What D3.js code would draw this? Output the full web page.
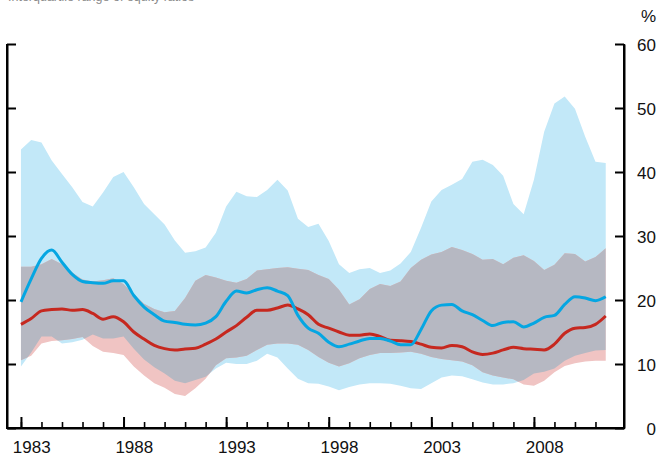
<!DOCTYPE html>
<html>
<head>
<meta charset="utf-8">
<script src="https://cdn.jsdelivr.net/npm/d3@7"></script>
<style>
  html, body { margin: 0; padding: 0; background: #fff; }
  svg { display: block; font-family: "Liberation Sans", Arial, Helvetica, sans-serif; }
</style>
</head>
<body>
<svg id="chart" width="657" height="457"></svg>
<script>
// Half-yearly observations, 1983 to mid-2011
const years = [
  1983.0, 1983.5, 1984.0, 1984.5, 1985.0, 1985.5, 1986.0, 1986.5, 1987.0, 1987.5,
  1988.0, 1988.5, 1989.0, 1989.5, 1990.0, 1990.5, 1991.0, 1991.5, 1992.0, 1992.5,
  1993.0, 1993.5, 1994.0, 1994.5, 1995.0, 1995.5, 1996.0, 1996.5, 1997.0, 1997.5,
  1998.0, 1998.5, 1999.0, 1999.5, 2000.0, 2000.5, 2001.0, 2001.5, 2002.0, 2002.5,
  2003.0, 2003.5, 2004.0, 2004.5, 2005.0, 2005.5, 2006.0, 2006.5, 2007.0, 2007.5,
  2008.0, 2008.5, 2009.0, 2009.5, 2010.0, 2010.5, 2011.0, 2011.5
];

// Blue series: upper and lower bound of range, and central line
const blueHigh = [
  43.5, 45.0, 44.6, 41.8, 39.7, 37.6, 35.3, 34.6, 36.8, 39.2,
  40.0, 37.6, 35.0, 33.4, 31.8, 29.3, 27.4, 27.6, 28.2, 30.5,
  34.6, 36.9, 36.2, 36.1, 37.2, 38.8, 37.1, 32.7, 31.4, 31.9,
  29.2, 25.6, 24.2, 24.8, 25.0, 24.2, 24.6, 25.7, 27.5, 31.3,
  35.4, 37.2, 38.0, 38.9, 41.6, 41.9, 41.1, 39.4, 35.0, 33.4,
  38.8, 46.3, 50.7, 51.8, 49.9, 45.5, 41.6, 41.4
];
const blueLow = [
  9.6, 11.8, 14.3, 14.3, 13.2, 13.4, 13.8, 14.6, 14.0, 14.0,
  14.3, 12.4, 10.7, 9.5, 8.5, 7.4, 7.0, 7.5, 8.0, 9.3,
  10.2, 10.0, 10.0, 10.5, 11.6, 11.0, 9.3, 7.7, 7.0, 6.9,
  6.5, 5.9, 6.4, 6.8, 7.0, 7.0, 6.9, 6.6, 6.2, 6.1,
  7.0, 7.9, 8.2, 8.1, 7.6, 7.1, 6.8, 6.8, 7.0, 7.5,
  8.5, 8.8, 9.3, 10.5, 11.3, 11.7, 12.1, 12.2
];
const blueLine = [
  19.7, 23.3, 26.5, 27.8, 25.9, 24.0, 22.9, 22.7, 22.6, 23.0,
  23.0, 20.7, 18.9, 17.7, 16.7, 16.5, 16.2, 16.1, 16.4, 17.4,
  19.8, 21.4, 21.1, 21.6, 21.9, 21.4, 20.7, 17.6, 15.6, 14.8,
  13.4, 12.7, 13.1, 13.6, 14.0, 14.0, 13.6, 13.0, 13.0, 15.4,
  18.3, 19.2, 19.3, 18.3, 17.7, 16.8, 16.0, 16.5, 16.6, 15.8,
  16.4, 17.3, 17.6, 19.3, 20.5, 20.3, 19.9, 20.5
];

// Red series: upper and lower bound of range, and central line
const redHigh = [
  25.2, 25.2, 25.6, 26.4, 25.6, 24.3, 23.2, 22.9, 23.1, 23.4,
  22.5, 20.9, 19.4, 18.6, 18.1, 18.3, 20.3, 23.0, 23.9, 23.5,
  23.0, 22.7, 23.3, 24.6, 24.8, 25.0, 25.1, 24.9, 24.7, 23.9,
  23.3, 21.6, 19.3, 20.1, 21.7, 22.5, 22.2, 22.9, 25.0, 26.3,
  27.1, 27.5, 28.3, 27.8, 27.2, 26.3, 26.4, 25.6, 26.6, 27.0,
  26.1, 24.7, 25.5, 27.3, 27.2, 26.0, 26.7, 28.1
];
const redLow = [
  10.6, 11.3, 13.2, 13.6, 13.7, 13.9, 14.2, 12.8, 11.9, 11.7,
  11.4, 9.6, 8.2, 7.0, 6.3, 5.3, 5.0, 6.2, 7.7, 9.8,
  10.9, 11.0, 11.3, 12.2, 13.0, 13.2, 13.2, 13.0, 12.2, 11.1,
  10.2, 9.6, 10.1, 10.9, 11.4, 11.7, 11.7, 11.8, 11.9, 11.6,
  11.1, 10.8, 10.6, 10.4, 9.8, 8.7, 8.2, 7.9, 7.6, 6.8,
  6.6, 7.4, 8.7, 9.7, 10.1, 10.4, 10.5, 10.5
];
const redLine = [
  16.2, 17.1, 18.3, 18.5, 18.6, 18.4, 18.5, 17.9, 17.0, 17.4,
  16.6, 15.0, 13.9, 12.9, 12.4, 12.2, 12.35, 12.45, 13.1, 13.9,
  15.0, 16.0, 17.3, 18.4, 18.4, 18.75, 19.2, 18.6, 17.7, 16.2,
  15.6, 15.0, 14.5, 14.5, 14.7, 14.3, 13.7, 13.65, 13.5, 13.1,
  12.6, 12.5, 12.9, 12.7, 11.9, 11.5, 11.7, 12.2, 12.6, 12.4,
  12.3, 12.2, 13.1, 14.8, 15.6, 15.7, 16.2, 17.5
];

// Axis ticks
const yTicks = [0, 10, 20, 30, 40, 50, 60];
const labelYears = [1983, 1988, 1993, 1998, 2003, 2008];
const minorYears = [
  1983, 1984, 1985, 1986, 1987, 1988, 1989, 1990, 1991, 1992,
  1993, 1994, 1995, 1996, 1997, 1998, 1999, 2000, 2001, 2002,
  2003, 2004, 2005, 2006, 2007, 2008, 2009, 2010, 2011
];

const svg = d3.select("#chart");
const plotLeft = 7, plotRight = 624, plotTop = 44, plotBottom = 428;

const x = d3.scaleLinear().domain([1982.32, 2012.39]).range([plotLeft, plotRight]);
const y = d3.scaleLinear().domain([0, 60]).range([plotBottom, plotTop]);

const rows = years.map((t, i) => ({
  t, bh: blueHigh[i], bl: blueLow[i], bm: blueLine[i],
  rh: redHigh[i], rl: redLow[i], rm: redLine[i]
}));

const COL = {
  blueBand: "#c2e8f8",
  redBand: "#f0c4c3",
  overlap: "#b6b8c2",
  blueLine: "#05a6e2",
  redLine: "#c6281f"
};

// Subtitle line at the top edge
svg.append("text")
  .attr("x", 8).attr("y", 1)
  .attr("fill", "#8a8a8a")
  .attr("font-size", 12.5)
  .text("Interquartile range of equity ratios");

const blueArea = d3.area().x(d => x(d.t)).y0(d => y(d.bl)).y1(d => y(d.bh));
const redArea = d3.area().x(d => x(d.t)).y0(d => y(d.rl)).y1(d => y(d.rh));

svg.append("defs").append("clipPath").attr("id", "blueClip")
  .append("path").attr("d", blueArea(rows));

svg.append("path").attr("d", blueArea(rows)).attr("fill", COL.blueBand);
svg.append("path").attr("d", redArea(rows)).attr("fill", COL.redBand);
// Where the two ranges overlap
svg.append("path").attr("d", redArea(rows)).attr("fill", COL.overlap)
  .attr("clip-path", "url(#blueClip)");

const redPath = d3.line().x(d => x(d.t)).y(d => y(d.rm)).curve(d3.curveMonotoneX);
const bluePath = d3.line().x(d => x(d.t)).y(d => y(d.bm)).curve(d3.curveMonotoneX);

svg.append("path").attr("d", redPath(rows)).attr("fill", "none")
  .attr("stroke", COL.redLine).attr("stroke-width", 3).attr("stroke-linejoin", "round");
svg.append("path").attr("d", bluePath(rows)).attr("fill", "none")
  .attr("stroke", COL.blueLine).attr("stroke-width", 3).attr("stroke-linejoin", "round");

// Left axis: inward ticks, no labels
const leftAxis = svg.append("g").attr("transform", `translate(${plotLeft},0)`)
  .call(d3.axisRight(y).tickValues(yTicks).tickSize(9).tickSizeOuter(0).tickFormat(""));

// Right axis: inward ticks, labels outside
const rightAxis = svg.append("g").attr("transform", `translate(${plotRight},0)`)
  .call(d3.axisRight(y).tickValues(yTicks).tickSize(-9).tickSizeOuter(0).tickPadding(32)
    .tickFormat(d3.format("d")));
rightAxis.selectAll("text").attr("text-anchor", "end").attr("dy", "0.36em");

svg.append("text").attr("x", 656).attr("y", 22).attr("text-anchor", "end")
  .attr("font-size", 17).attr("fill", "#111").text("%");

// Bottom axis: yearly minor ticks, five-yearly major ticks
const minorAxis = svg.append("g").attr("transform", `translate(0,${plotBottom})`)
  .call(d3.axisBottom(x).tickValues(minorYears).tickSize(-6).tickSizeOuter(0).tickFormat(""));
const majorAxis = svg.append("g").attr("transform", `translate(0,${plotBottom})`)
  .call(d3.axisBottom(x).tickValues(labelYears).tickSize(-11).tickSizeOuter(0)
    .tickFormat(d3.format("d")));
majorAxis.select(".domain").remove();
majorAxis.selectAll("text")
  .attr("x", d => x(d + 0.5) - x(d))
  .attr("y", 25).attr("dy", 0);

for (const g of [leftAxis, rightAxis, minorAxis, majorAxis]) {
  g.attr("font-family", null).attr("font-size", null);
  g.selectAll(".domain").attr("stroke", "#000").attr("stroke-width", 2);
  g.selectAll(".tick line").attr("stroke", "#000").attr("stroke-width", 2);
  g.selectAll("text").attr("font-size", 17).attr("fill", "#111");
}
minorAxis.selectAll(".tick line").attr("stroke-width", 1.6);

// Frame along the left, bottom and right edges
svg.append("path")
  .attr("d", `M${plotLeft},${plotTop}V${plotBottom}H${plotRight}V${plotTop}`)
  .attr("fill", "none").attr("stroke", "#000").attr("stroke-width", 2);
</script>
</body>
</html>
